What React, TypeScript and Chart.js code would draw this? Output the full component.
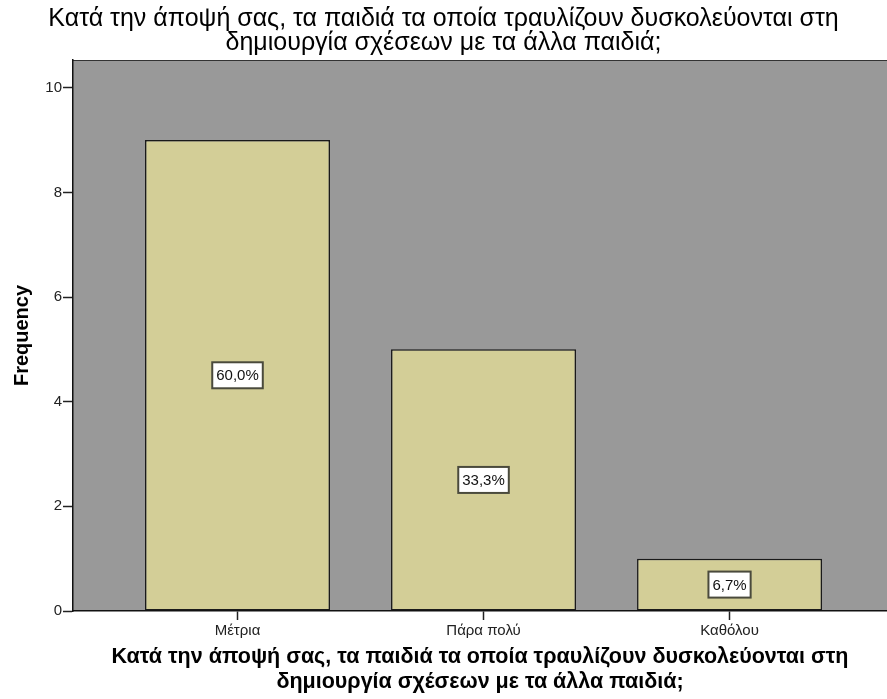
import React, { useEffect, useRef } from "react";
import { Chart, registerables } from "chart.js";

Chart.register(...registerables);

const categories = ["Μέτρια", "Πάρα πολύ", "Καθόλου"];
const frequencies = [9, 5, 1];
const percentLabels = ["60,0%", "33,3%", "6,7%"];
const yTicks = [0, 2, 4, 6, 8, 10];
const titleLines = [
  "Κατά την άποψή σας, τα παιδιά τα οποία τραυλίζουν δυσκολεύονται στη",
  "δημιουργία σχέσεων με τα άλλα παιδιά;",
];
const yTitle = "Frequency";

const FONT = '"Liberation Sans", Arial, sans-serif';

const plotBg = {
  id: "plotBg",
  beforeDraw(chart: any) {
    const { ctx, chartArea } = chart;
    ctx.save();
    ctx.fillStyle = "rgb(153,153,153)";
    ctx.fillRect(chartArea.left, chartArea.top, chartArea.right - chartArea.left, chartArea.bottom - chartArea.top);
    ctx.strokeStyle = "#333";
    ctx.lineWidth = 1;
    ctx.beginPath();
    ctx.moveTo(chartArea.left, chartArea.top + 0.5);
    ctx.lineTo(chartArea.right, chartArea.top + 0.5);
    ctx.stroke();
    ctx.restore();
  },
};

const boxLabels = {
  id: "boxLabels",
  afterDatasetsDraw(chart: any) {
    const { ctx } = chart;
    const meta = chart.getDatasetMeta(0);
    ctx.save();
    ctx.font = `15px ${FONT}`;
    ctx.textAlign = "center";
    ctx.textBaseline = "middle";
    meta.data.forEach((bar: any, i: number) => {
      const text = percentLabels[i];
      const cx = bar.x;
      const cy = (bar.y + bar.base) / 2;
      const w = ctx.measureText(text).width + 8;
      const h = 26;
      ctx.fillStyle = "#fff";
      ctx.fillRect(cx - w / 2, cy - h / 2, w, h);
      ctx.strokeStyle = "#4a4a3c";
      ctx.lineWidth = 2;
      ctx.strokeRect(cx - w / 2, cy - h / 2, w, h);
      ctx.fillStyle = "#111";
      ctx.fillText(text, cx, cy + 1);
    });
    ctx.restore();
  },
};

export default function App() {
  const ref = useRef<HTMLCanvasElement>(null);

  useEffect(() => {
    if (!ref.current) return;
    const chart = new Chart(ref.current, {
      type: "bar",
      data: {
        datasets: [
          {
            data: frequencies.map((v, i) => ({ x: i, y: v })),
            backgroundColor: "rgb(211,206,151)",
            borderColor: "#1a1a1a",
            borderWidth: 1.5,
            borderSkipped: false,
            barPercentage: 0.752,
            categoryPercentage: 1,
          },
        ],
      },
      options: {
        responsive: false,
        animation: false,
        layout: { padding: 0 },
        plugins: {
          legend: { display: false },
          tooltip: { enabled: false },
          title: {
            display: true,
            text: titleLines,
            color: "#000",
            font: { family: FONT, size: 25, weight: "normal", lineHeight: "24px" },
            padding: { top: 7, bottom: 5 },
          },
        },
        scales: {
          x: {
            type: "linear",
            offset: false,
            min: -0.6687,
            max: 2.64,
            afterBuildTicks: (axis: any) => {
              axis.ticks = categories.map((_, i) => ({ value: i }));
            },
            afterFit: (axis: any) => {
              axis.height = 88;
            },
            ticks: {
              callback: (v: any) => categories[v] ?? "",
              font: { family: FONT, size: 15 },
              color: "#222",
              padding: 2,
              maxRotation: 0,
            },
            grid: {
              display: true,
              offset: false,
              drawOnChartArea: false,
              drawTicks: true,
              tickLength: 9,
              tickColor: "#222",
              tickWidth: 1.5,
            },
            border: { display: true, color: "#111", width: 1.5 },
            title: {
              display: true,
              text: titleLines,
              color: "#000",
              font: { family: FONT, size: 21.5, weight: "bold", lineHeight: "25px" },
              padding: { top: 4, bottom: 4 },
            },
          },
          y: {
            type: "linear",
            min: 0,
            max: 10.53,
            afterBuildTicks: (axis: any) => {
              axis.ticks = yTicks.map((v) => ({ value: v }));
            },
            afterFit: (axis: any) => {
              axis.width = 73;
            },
            ticks: {
              font: { family: FONT, size: 15 },
              color: "#222",
              padding: 1,
            },
            grid: {
              display: true,
              drawOnChartArea: false,
              drawTicks: true,
              tickLength: 10,
              tickColor: "#222",
              tickWidth: 1.5,
            },
            border: { display: true, color: "#111", width: 1.5 },
            title: {
              display: true,
              text: yTitle,
              color: "#000",
              font: { family: FONT, size: 20, weight: "bold" },
              padding: { top: 10, bottom: 0 },
            },
          },
        },
      },
      plugins: [plotBg, boxLabels],
    });
    return () => chart.destroy();
  }, []);

  return (
    <div style={{ position: "fixed", left: 0, top: 0, width: 887, height: 699, background: "#fff" }}>
      <canvas ref={ref} width={887} height={699} />
    </div>
  );
}
